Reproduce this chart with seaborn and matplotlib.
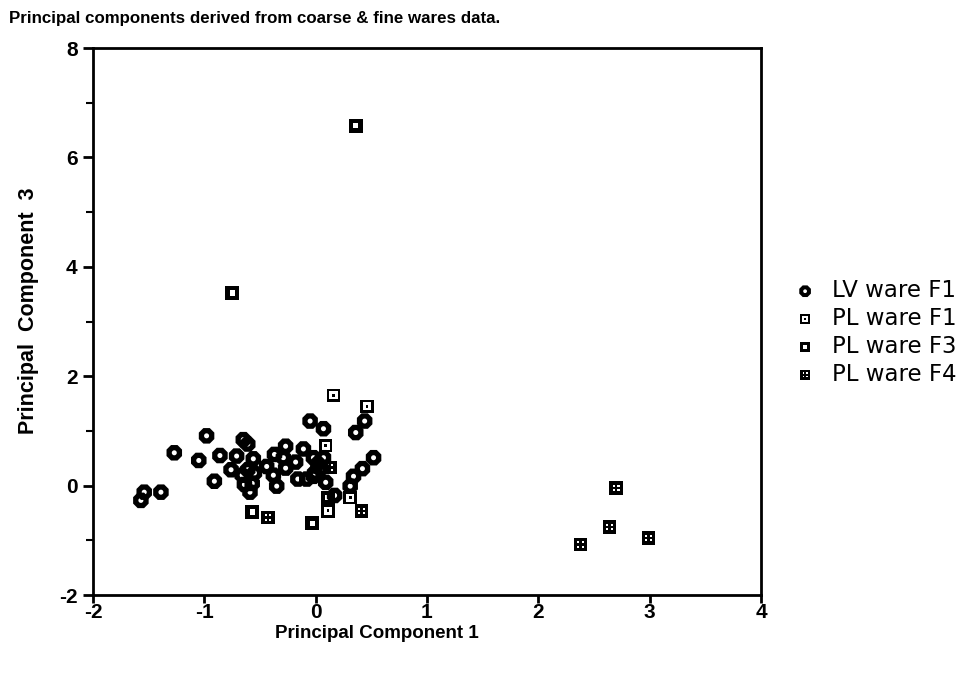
import numpy as np
import pandas as pd
import matplotlib
matplotlib.use("Agg")
import matplotlib.pyplot as plt
from matplotlib.path import Path
from matplotlib.ticker import MultipleLocator
import seaborn as sns

# ---- data: scores on principal components 1 and 3 ----
lv_f1_pc1 = [-1.57, -1.54, -1.39, -1.27, -1.05, -0.98, -0.86, -0.91,
             -0.65, -0.61, -0.71, -0.76, -0.66, -0.61, -0.56, -0.55,
             -0.64, -0.57, -0.59, -0.44, -0.37, -0.35, -0.38, -0.29,
             -0.27, -0.27, -0.18, -0.16, -0.08, -0.11, -0.05, 0.07,
             -0.02, -0.01, 0.05, 0.07, 0.09, 0.44, 0.36, 0.52,
             0.42, 0.34, 0.31, 0.17, -0.02, 0.02]
lv_f1_pc3 = [-0.27, -0.12, -0.12, 0.60, 0.46, 0.91, 0.55, 0.08,
             0.84, 0.76, 0.54, 0.29, 0.19, 0.29, 0.49, 0.23,
             0.02, 0.04, -0.12, 0.35, 0.57, -0.01, 0.19, 0.51,
             0.72, 0.32, 0.43, 0.12, 0.12, 0.67, 1.18, 1.04,
             0.51, 0.23, 0.32, 0.51, 0.06, 1.18, 0.97, 0.51,
             0.31, 0.17, -0.01, -0.18, 0.17, 0.40]

pl_f1_pc1 = [0.16, 0.46, 0.09, 0.31, 0.11]
pl_f1_pc3 = [1.65, 1.45, 0.73, -0.22, -0.46]

pl_f3_pc1 = [0.36, -0.75, -0.57, -0.03, 0.11]
pl_f3_pc3 = [6.58, 3.52, -0.48, -0.69, -0.22]

pl_f4_pc1 = [2.70, 2.64, 2.38, 2.99, -0.43, 0.13, 0.41]
pl_f4_pc3 = [-0.04, -0.76, -1.08, -0.96, -0.58, 0.33, -0.46]

groups = ["LV ware F1", "PL ware F1", "PL ware F3", "PL ware F4"]

df = pd.concat([
    pd.DataFrame({"pc1": lv_f1_pc1, "pc3": lv_f1_pc3, "ware": groups[0]}),
    pd.DataFrame({"pc1": pl_f1_pc1, "pc3": pl_f1_pc3, "ware": groups[1]}),
    pd.DataFrame({"pc1": pl_f3_pc1, "pc3": pl_f3_pc3, "ware": groups[2]}),
    pd.DataFrame({"pc1": pl_f4_pc1, "pc3": pl_f4_pc3, "ware": groups[3]}),
], ignore_index=True)


# ---- custom glyphs ----
def square(cx, cy, h, ccw=True):
    v = [(cx - h, cy - h), (cx + h, cy - h), (cx + h, cy + h), (cx - h, cy + h)]
    if not ccw:
        v = v[::-1]
    return Path(v + [v[0]], [Path.MOVETO, Path.LINETO, Path.LINETO, Path.LINETO, Path.CLOSEPOLY])


def polygon(n, r, rot=0.0, ccw=True):
    a = np.linspace(0, 2 * np.pi, n, endpoint=False) + rot
    if not ccw:
        a = a[::-1]
    v = [(r * np.cos(t), r * np.sin(t)) for t in a]
    codes = [Path.MOVETO] + [Path.LINETO] * (n - 1) + [Path.CLOSEPOLY]
    return Path(v + [v[0]], codes)


ring_diamond = Path.make_compound_path(polygon(8, 1.0, np.pi / 8),
                                       polygon(16, 0.30, ccw=False))
box_dot = Path.make_compound_path(square(0, 0, 1.0), square(0, 0, 0.6, ccw=False),
                                  square(0, 0, 0.2))
box_hole = Path.make_compound_path(square(0, 0, 1.0), square(0, 0, 0.38, ccw=False))
box_grid = Path.make_compound_path(square(0, 0, 1.0),
                                   square(-0.33, -0.33, 0.15, ccw=False),
                                   square(0.33, -0.33, 0.15, ccw=False),
                                   square(-0.33, 0.33, 0.15, ccw=False),
                                   square(0.33, 0.33, 0.15, ccw=False))

markers = {groups[0]: ring_diamond, groups[1]: box_dot,
           groups[2]: box_hole, groups[3]: box_grid}
sizes = {groups[0]: 125, groups[1]: 95, groups[2]: 100, groups[3]: 95}

# ---- figure ----
sns.set_theme(style="ticks")
plt.rcParams["font.family"] = ["Liberation Sans", "DejaVu Sans"]
plt.rcParams["axes.unicode_minus"] = False
for key in ("text.color", "axes.labelcolor", "xtick.color", "ytick.color",
            "axes.edgecolor"):
    plt.rcParams[key] = "black"

fig = plt.figure(figsize=(9.77, 6.78), dpi=100)
ax = fig.add_axes([0.0952, 0.1224, 0.6837, 0.8068])

for g in groups:
    sub = df[df["ware"] == g]
    sns.scatterplot(data=sub, x="pc1", y="pc3", marker=markers[g], s=sizes[g],
                    color="black", edgecolor="none", linewidth=0, label=g, ax=ax)

ax.set_xlim(-2, 4)
ax.set_ylim(-2, 8)
ax.xaxis.set_major_locator(MultipleLocator(1))
ax.yaxis.set_major_locator(MultipleLocator(2))
ax.yaxis.set_minor_locator(MultipleLocator(1))

for s in ax.spines.values():
    s.set_visible(True)
    s.set_linewidth(2.0)
    s.set_color("black")

ax.tick_params(axis="x", which="major", direction="out", length=6, width=2,
               labelsize=15, pad=0)
ax.tick_params(axis="y", which="major", direction="out", length=7, width=2,
               labelsize=15, pad=4)
ax.tick_params(axis="y", which="minor", direction="out", length=5, width=1.5)
for lab in ax.get_xticklabels() + ax.get_yticklabels():
    lab.set_fontweight("bold")

ax.set_xlabel("Principal Component 1", fontsize=13.5, fontweight="bold", labelpad=2)
ax.xaxis.set_label_coords(0.425, -0.055)
ax.set_ylabel("Principal  Component  3", fontsize=15.5, fontweight="bold")
ax.yaxis.set_label_coords(-0.081, 0.52)

fig.text(0.009, 0.972, "Principal components derived from coarse & fine wares data.",
         fontsize=12.2, fontweight="bold", ha="left", va="center")

leg = ax.legend(loc="upper left", bbox_to_anchor=(1.018, 0.615), frameon=False,
                prop={"family": "DejaVu Sans", "size": 16.5},
                handlelength=1.0, handletextpad=0.66,
                labelspacing=0.21, markerscale=0.75)

fig.savefig("out.png", dpi=100, facecolor="white")
